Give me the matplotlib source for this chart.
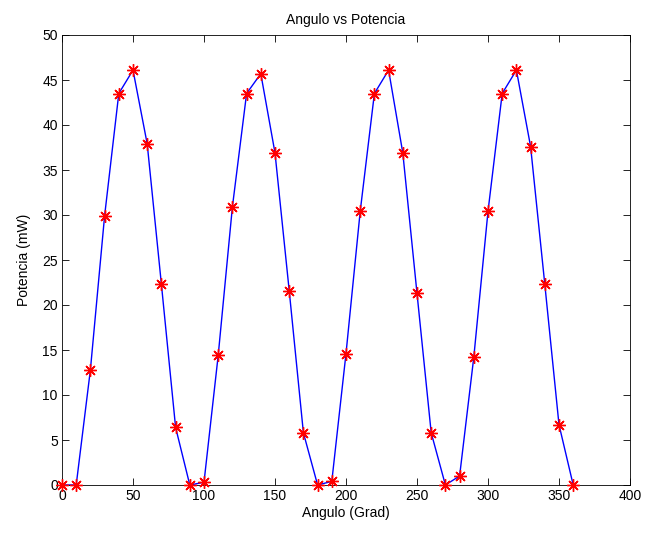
import matplotlib
matplotlib.use("Agg")
import matplotlib.pyplot as plt

angulo = list(range(0, 361, 10))
potencia = [0, 0, 12.8, 29.9, 43.5, 46.1, 37.9, 22.3, 6.4,
            0, 0.3, 14.4, 30.9, 43.5, 45.7, 36.9, 21.6, 5.8,
            0, 0.4, 14.6, 30.4, 43.5, 46.1, 36.9, 21.3, 5.8,
            0, 1.0, 14.2, 30.4, 43.5, 46.1, 37.6, 22.3, 6.7,
            0]

xticks = list(range(0, 401, 50))
yticks = list(range(0, 51, 5))

plt.rcParams['font.family'] = ['Liberation Sans', 'DejaVu Sans']
plt.rcParams['font.size'] = 8.5

fig = plt.figure(figsize=(6.45, 5.35), dpi=100)
ax = fig.add_axes([62 / 645, 1 - 485 / 535, (630 - 62) / 645, (485 - 35) / 535])

ax.plot(angulo, potencia, color='#0000ff', linewidth=1.0, zorder=2)
# eight-spoke asterisk marker
ax.plot(angulo, potencia, linestyle='none', marker=(8, 2, 0), color='#ff0000',
        markersize=9, markeredgewidth=1.0, zorder=3, clip_on=False)

ax.set_xlim(0, 400)
ax.set_ylim(0, 50)
ax.set_xticks(xticks)
ax.set_yticks(yticks)
ax.tick_params(direction='in', top=True, right=True, length=5, width=0.6,
               labelsize=10, pad=3)
for s in ax.spines.values():
    s.set_linewidth(0.6)

ax.set_title('Angulo vs Potencia', fontsize=10, pad=8)
ax.set_xlabel('Angulo (Grad)', fontsize=10, labelpad=2)
ax.set_ylabel('Potencia (mW)', fontsize=10, labelpad=8)

fig.savefig('out.png', dpi=100)
